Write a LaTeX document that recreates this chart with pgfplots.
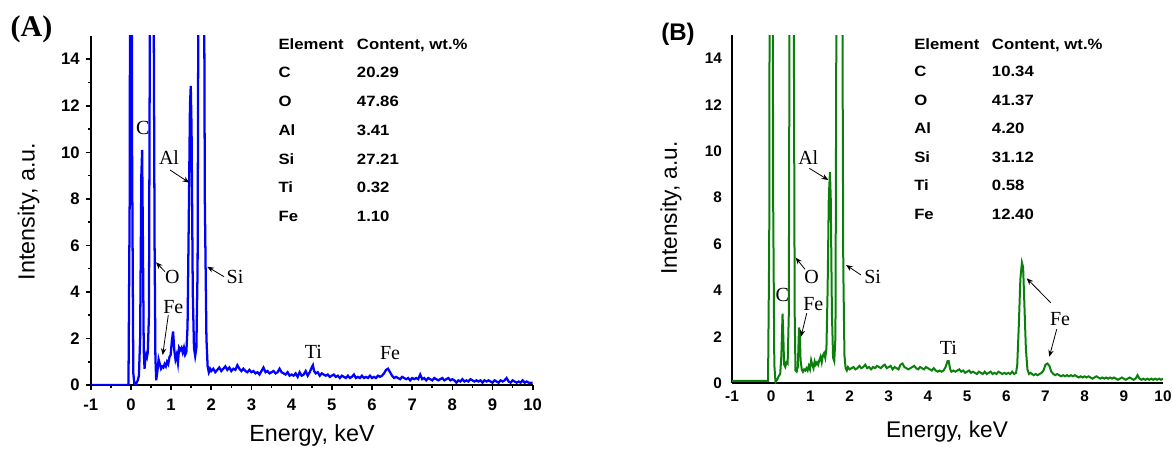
\documentclass[border=0pt]{standalone}
\usepackage{pgfplots}
\pgfplotsset{compat=1.18}
\usepackage{fontspec}
\setmainfont{Liberation Sans}
\newfontfamily\tms{Liberation Serif}
\newfontfamily\tabfont[FakeStretch=1.12]{Liberation Sans}
\usetikzlibrary{arrows.meta}
\definecolor{specblue}{RGB}{0,0,255}
\definecolor{specgreen}{RGB}{10,128,10}

\pgfplotstableread{
x y
-1 0
-0.06 0
-0.03 8
0 40
0.03 10
0.06 0.5
0.09 0
0.13 0.05
0.17 0.2
0.20 0.4
0.23 2
0.26 9
0.28 10.1
0.30 6
0.32 1.5
0.34 0.7
0.36 1.1
0.38 1.3
0.40 1.2
0.42 1.4
0.45 3
0.48 20
0.52 40
0.56 20
0.59 6
0.61 1.2
0.63 0.2
0.66 0.6
0.69 1.1
0.72 0.9
0.75 0.7
0.78 0.8
0.81 0.75
0.84 0.9
0.87 0.8
0.90 1.0
0.93 0.9
0.96 1.2
0.99 1.3
1.02 1.9
1.05 2.3
1.08 1.5
1.11 1.1
1.14 1.3
1.17 0.95
1.20 1.6
1.23 1.5
1.26 1.6
1.29 1.4
1.32 1.6
1.35 1.3
1.38 1.4
1.41 2.5
1.44 7
1.47 12
1.49 12.85
1.51 11
1.54 4
1.57 1.6
1.60 1.25
1.63 1.6
1.66 5
1.70 30
1.75 40
1.80 30
1.84 8
1.88 2
1.91 0.8
1.94 0.55
1.97 0.7
2.00 0.6
2.05 0.7
2.10 0.55
2.15 0.65
2.20 0.75
2.25 0.6
2.30 0.7
2.35 0.8
2.40 0.65
2.45 0.75
2.50 0.6
2.55 0.7
2.60 0.65
2.65 0.85
2.70 0.7
2.75 0.6
2.80 0.7
2.85 0.6
2.90 0.55
2.95 0.65
3.00 0.55
3.05 0.6
3.10 0.5
3.15 0.55
3.20 0.45
3.25 0.6
3.30 0.75
3.35 0.55
3.40 0.6
3.45 0.5
3.50 0.55
3.55 0.6
3.60 0.5
3.65 0.55
3.70 0.7
3.75 0.55
3.80 0.5
3.85 0.45
3.90 0.55
3.95 0.4
4.00 0.45
4.05 0.4
4.10 0.5
4.15 0.35
4.20 0.55
4.25 0.4
4.30 0.45
4.35 0.6
4.40 0.4
4.45 0.55
4.50 0.75
4.53 0.85
4.56 0.6
4.60 0.5
4.65 0.55
4.70 0.4
4.75 0.5
4.80 0.45
4.85 0.4
4.90 0.45
4.95 0.35
5.00 0.4
5.05 0.45
5.10 0.35
5.15 0.4
5.20 0.3
5.25 0.4
5.30 0.35
5.35 0.3
5.40 0.4
5.45 0.3
5.50 0.35
5.55 0.45
5.60 0.3
5.65 0.35
5.70 0.3
5.75 0.4
5.80 0.3
5.85 0.35
5.90 0.3
5.95 0.4
6.00 0.3
6.05 0.35
6.10 0.3
6.15 0.4
6.20 0.35
6.25 0.4
6.30 0.5
6.35 0.65
6.40 0.7
6.45 0.55
6.50 0.4
6.55 0.3
6.60 0.35
6.65 0.3
6.70 0.25
6.75 0.35
6.80 0.3
6.85 0.25
6.90 0.3
6.95 0.2
7.00 0.3
7.05 0.25
7.10 0.3
7.15 0.25
7.20 0.45
7.25 0.25
7.30 0.3
7.35 0.2
7.40 0.3
7.45 0.25
7.50 0.2
7.55 0.3
7.60 0.25
7.65 0.2
7.70 0.25
7.75 0.3
7.80 0.2
7.85 0.25
7.90 0.3
7.95 0.2
8.00 0.25
8.05 0.2
8.10 0.1
8.15 0.2
8.20 0.15
8.25 0.25
8.30 0.15
8.35 0.2
8.40 0.15
8.45 0.25
8.50 0.2
8.55 0.15
8.60 0.2
8.65 0.15
8.70 0.2
8.75 0.1
8.80 0.2
8.85 0.15
8.90 0.2
8.95 0.15
9.00 0.1
9.05 0.2
9.10 0.15
9.15 0.1
9.20 0.2
9.25 0.15
9.30 0.2
9.35 0.3
9.40 0.15
9.45 0.1
9.50 0.2
9.55 0.15
9.60 0.1
9.65 0.15
9.70 0.1
9.75 0.2
9.80 0.1
9.85 0.15
9.90 0.1
9.95 0.1
10.00 0.1
}\specA

\pgfplotstableread{
x y
-1 0.1
-0.08 0.1
-0.05 6
-0.02 40
0.02 40
0.05 8
0.08 0.8
0.11 0.05
0.15 0.15
0.19 0.3
0.23 0.4
0.26 1.2
0.29 3.0
0.31 2.0
0.33 0.8
0.36 0.7
0.39 0.9
0.42 0.85
0.45 3
0.48 25
0.53 40
0.57 20
0.60 3
0.62 0.55
0.65 0.5
0.68 0.7
0.71 2.4
0.73 2.2
0.75 1.0
0.78 0.6
0.81 0.5
0.84 0.6
0.87 0.55
0.90 0.65
0.93 0.55
0.96 0.75
0.99 0.6
1.02 1.0
1.05 0.8
1.08 0.65
1.11 0.95
1.14 0.8
1.17 0.9
1.20 0.8
1.23 1.0
1.26 1.15
1.29 0.9
1.32 1.2
1.35 1.3
1.38 1.1
1.41 1.5
1.44 4
1.47 8
1.50 9.1
1.52 8
1.55 3
1.58 1.1
1.61 0.95
1.64 2
1.68 25
1.74 40
1.80 25
1.84 5
1.87 1.2
1.90 0.65
1.93 0.55
1.96 0.7
2.00 0.6
2.05 0.65
2.10 0.7
2.15 0.6
2.20 0.65
2.25 0.75
2.30 0.65
2.35 0.7
2.40 0.8
2.45 0.65
2.50 0.7
2.55 0.6
2.60 0.7
2.65 0.65
2.70 0.75
2.75 0.7
2.80 0.65
2.85 0.75
2.90 0.8
2.95 0.65
3.00 0.7
3.05 0.75
3.10 0.6
3.15 0.7
3.20 0.65
3.25 0.6
3.30 0.8
3.35 0.85
3.40 0.7
3.45 0.65
3.50 0.6
3.55 0.65
3.60 0.7
3.65 0.75
3.70 0.65
3.75 0.6
3.80 0.7
3.85 0.65
3.90 0.6
3.95 0.7
4.00 0.65
4.05 0.6
4.10 0.55
4.15 0.65
4.20 0.55
4.25 0.5
4.30 0.55
4.35 0.5
4.40 0.55
4.45 0.7
4.50 0.95
4.53 0.95
4.57 0.6
4.60 0.5
4.65 0.55
4.70 0.5
4.75 0.55
4.80 0.6
4.85 0.5
4.90 0.55
4.95 0.45
5.00 0.5
5.05 0.55
5.10 0.45
5.15 0.5
5.20 0.45
5.25 0.4
5.30 0.5
5.35 0.45
5.40 0.4
5.45 0.5
5.50 0.4
5.55 0.45
5.60 0.5
5.65 0.4
5.70 0.45
5.75 0.4
5.80 0.5
5.85 0.45
5.90 0.4
5.95 0.45
6.00 0.4
6.05 0.45
6.10 0.4
6.15 0.5
6.20 0.4
6.25 0.45
6.28 0.8
6.32 2.5
6.36 4.5
6.40 5.2
6.43 5.0
6.46 3.5
6.50 1.5
6.54 0.6
6.58 0.4
6.62 0.45
6.66 0.4
6.70 0.35
6.75 0.4
6.80 0.35
6.85 0.4
6.90 0.45
6.95 0.55
7.00 0.8
7.05 0.85
7.10 0.75
7.15 0.5
7.20 0.4
7.25 0.35
7.30 0.4
7.35 0.35
7.40 0.3
7.45 0.35
7.50 0.3
7.55 0.35
7.60 0.3
7.65 0.35
7.70 0.3
7.75 0.35
7.80 0.3
7.85 0.25
7.90 0.3
7.95 0.25
8.00 0.3
8.05 0.25
8.10 0.3
8.15 0.25
8.20 0.2
8.25 0.25
8.30 0.3
8.35 0.25
8.40 0.2
8.45 0.25
8.50 0.2
8.55 0.25
8.60 0.2
8.65 0.25
8.70 0.2
8.75 0.25
8.80 0.2
8.85 0.15
8.90 0.2
8.95 0.25
9.00 0.2
9.05 0.15
9.10 0.2
9.15 0.25
9.20 0.2
9.25 0.15
9.30 0.2
9.35 0.35
9.40 0.2
9.45 0.15
9.50 0.2
9.55 0.15
9.60 0.2
9.65 0.15
9.70 0.2
9.75 0.15
9.80 0.2
9.85 0.15
9.90 0.2
9.95 0.15
10.00 0.2
}\specB

\begin{document}
\begin{tikzpicture}[x=0.75pt,y=0.75pt]
\path[use as bounding box] (0,0) rectangle (1172,450);

% ---------------- Panel A ----------------
\begin{axis}[
  at={(68.03pt,48.75pt)}, anchor=south west,
  scale only axis, width=331.5pt, height=261.75pt,
  xmin=-1, xmax=10, ymin=0, ymax=15,
  axis x line*=bottom, axis y line*=left,
  axis line style={line width=1.3pt, black},
  xtick={-1,0,...,10}, xticklabels={-1,0,1,2,3,4,5,6,7,8,9,10},
  ytick={0,2,...,14}, yticklabels={0,2,4,6,8,10,12,14},
  minor x tick num=1, minor y tick num=1,
  tick align=outside,
  major tick length=3.75pt, minor tick length=2.2pt,
  every tick/.style={black, line width=1.2pt},
  ticklabel style={font=\bfseries\fontsize{12.5}{14}\selectfont},
  xticklabel style={yshift=-3pt},
  yticklabel style={xshift=-1pt},
]
\addplot[specblue, line width=1.7pt] table {\specA};
\end{axis}

% ---------------- Panel B ----------------
\begin{axis}[
  at={(549pt,50.03pt)}, anchor=south west,
  scale only axis, width=323.25pt, height=261.2pt,
  xmin=-1, xmax=10, ymin=0, ymax=15,
  axis x line*=bottom, axis y line*=left,
  axis line style={line width=1.3pt, black},
  xtick={-1,0,...,10}, xticklabels={-1,0,1,2,3,4,5,6,7,8,9,10},
  ytick={0,2,...,14}, yticklabels={0,2,4,6,8,10,12,14},
  major tick length=0pt,
  ticklabel style={font=\bfseries\fontsize{11.5}{13}\selectfont},
  xticklabel style={yshift=-2pt},
  yticklabel style={xshift=-4pt},
]
\addplot[specgreen, line width=1.5pt] table {\specB};
\end{axis}

% axis labels
\node[font=\fontsize{17.5}{20}\selectfont, rotate=90] at (28.5,238.5) {Intensity, a.u.};
\node[font=\fontsize{17.5}{20}\selectfont] at (312,15) {Energy, keV};
\node[font=\fontsize{17}{20}\selectfont, rotate=90] at (671,242) {Intensity, a.u.};
\node[font=\fontsize{17}{20}\selectfont] at (947,18) {Energy, keV};

% panel letters
\node[font=\tms\bfseries\fontsize{22.5}{25}\selectfont] at (31.5,421) {(A)};
\node[font=\bfseries\fontsize{18}{20}\selectfont] at (678,416) {(B)};

% annotations
\begin{scope}[font=\tms\fontsize{15}{17}\selectfont]
\node at (142.7,321.7) {C};
\node at (169,292.7) {Al};
\draw[-{Stealth[length=5pt,width=4pt]}, line width=0.6pt] (170,280) -- (189.3,267.3);
\node at (172.3,172.7) {O};
\draw[-{Stealth[length=5pt,width=4pt]}, line width=0.6pt] (165,178.3) -- (156,187.7);
\node at (235,172.7) {Si};
\draw[-{Stealth[length=5pt,width=4pt]}, line width=0.6pt] (224,173.3) -- (207.3,183.3);
\node at (173.3,142.7) {Fe};
\draw[-{Stealth[length=5pt,width=4pt]}, line width=0.6pt] (168.3,135) -- (162.7,95);
\node at (313.3,98.3) {Ti};
\node at (390,96.7) {Fe};
\node at (782.3,155) {C};
\node at (813.3,146) {Fe};
\draw[-{Stealth[length=5pt,width=4pt]}, line width=0.6pt] (806.7,136.7) -- (801,113.3);
\node at (811.7,173.3) {O};
\draw[-{Stealth[length=5pt,width=4pt]}, line width=0.6pt] (805,180.7) -- (795.7,192.3);
\node at (872.7,173.3) {Si};
\draw[-{Stealth[length=5pt,width=4pt]}, line width=0.6pt] (861,175) -- (846,185);
\node at (808.3,292.7) {Al};
\draw[-{Stealth[length=5pt,width=4pt]}, line width=0.6pt] (809.3,281.7) -- (828.3,270);
\node at (948.3,101.7) {Ti};
\node at (1060,130.7) {Fe};
\draw[-{Stealth[length=5pt,width=4pt]}, line width=0.6pt] (1050.7,147.3) -- (1026.7,171.7);
\draw[-{Stealth[length=5pt,width=4pt]}, line width=0.6pt] (1056.7,120.7) -- (1049.3,93.3);
\end{scope}

% tables
\begin{scope}[font=\tabfont\bfseries\fontsize{11.2}{13}\selectfont, inner sep=0pt]
\foreach \e/\v/\yy in {Element/{Content, wt.\%}/406, C/20.29/377.7, O/47.86/349, Al/3.41/320, Si/27.21/290.7, Ti/0.32/262.3, Fe/1.10/234}{
  \node[anchor=base west] at (278.3,\yy-5.3) {\e};
  \node[anchor=base west] at (356.7,\yy-5.3) {\v};
}
\foreach \e/\v/\yy in {Element/{Content, wt.\%}/406, C/10.34/378.3, O/41.37/350, Al/4.20/321.7, Si/31.12/292.7, Ti/0.58/264.3, Fe/12.40/236}{
  \node[anchor=base west] at (914,\yy-5.3) {\e};
  \node[anchor=base west] at (991.7,\yy-5.3) {\v};
}
\end{scope}
\end{tikzpicture}
\end{document}
